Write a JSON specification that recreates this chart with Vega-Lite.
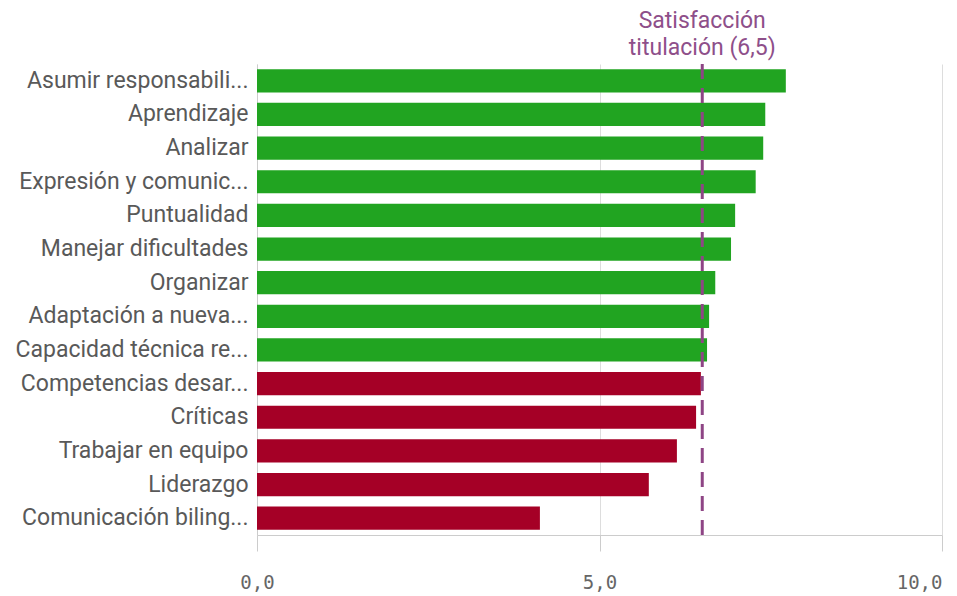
{
  "$schema": "https://vega.github.io/schema/vega-lite/v6.json",
  "autosize": {"type": "none"},
  "padding": {"left": 257, "top": 64, "right": 15, "bottom": 61},
  "width": 685,
  "height": 471,
  "background": "white",
  "config": {"view": {"stroke": null}},
  "datasets": {
    "bars": [
      {"competencia": "Asumir responsabili...", "valor": 7.72, "grupo": "sobre"},
      {"competencia": "Aprendizaje", "valor": 7.42, "grupo": "sobre"},
      {"competencia": "Analizar", "valor": 7.39, "grupo": "sobre"},
      {"competencia": "Expresión y comunic...", "valor": 7.28, "grupo": "sobre"},
      {"competencia": "Puntualidad", "valor": 6.98, "grupo": "sobre"},
      {"competencia": "Manejar dificultades", "valor": 6.92, "grupo": "sobre"},
      {"competencia": "Organizar", "valor": 6.69, "grupo": "sobre"},
      {"competencia": "Adaptación a nueva...", "valor": 6.60, "grupo": "sobre"},
      {"competencia": "Capacidad técnica re...", "valor": 6.57, "grupo": "sobre"},
      {"competencia": "Competencias desar...", "valor": 6.48, "grupo": "bajo"},
      {"competencia": "Críticas", "valor": 6.41, "grupo": "bajo"},
      {"competencia": "Trabajar en equipo", "valor": 6.13, "grupo": "bajo"},
      {"competencia": "Liderazgo", "valor": 5.72, "grupo": "bajo"},
      {"competencia": "Comunicación biling...", "valor": 4.13, "grupo": "bajo"}
    ],
    "ref": [
      {"valor": 6.5, "etiqueta": ["Satisfacción", "titulación (6,5)"]}
    ]
  },
  "layer": [
    {
      "data": {"name": "bars"},
      "mark": {"type": "bar"},
      "encoding": {
        "y": {
          "field": "competencia",
          "type": "nominal",
          "sort": null,
          "scale": {"paddingInner": 0.31, "paddingOuter": 0.155},
          "axis": {
            "title": null,
            "domain": true,
            "domainColor": "#cccccc",
            "ticks": false,
            "labelFont": "Roboto",
            "labelFontSize": 23,
            "labelColor": "#595959",
            "labelPadding": 9,
            "labelLimit": 300
          }
        },
        "x": {
          "field": "valor",
          "type": "quantitative",
          "scale": {"domain": [0, 10], "nice": false},
          "axis": {
            "title": null,
            "values": [0, 5, 10],
            "format": ".1f",
            "labelExpr": "replace(datum.label, '.', ',')",
            "labelAlign": {"condition": {"test": "datum.value == 10", "value": "right"}, "value": "center"},
            "grid": true,
            "gridColor": "#dddddd",
            "domain": true,
            "domainColor": "#cccccc",
            "tickColor": "#cccccc",
            "tickSize": 16,
            "labelFont": "DejaVu Sans Mono",
            "labelFontSize": 19,
            "labelColor": "#666666",
            "labelPadding": 22
          }
        },
        "color": {
          "field": "grupo",
          "type": "nominal",
          "scale": {"domain": ["sobre", "bajo"], "range": ["#21a421", "#a50026"]},
          "legend": null
        }
      }
    },
    {
      "data": {"name": "ref"},
      "mark": {"type": "rule", "color": "#8e4585", "strokeWidth": 3, "strokeDash": [15, 9]},
      "encoding": {
        "x": {"field": "valor", "type": "quantitative"}
      }
    },
    {
      "data": {"name": "ref"},
      "mark": {
        "type": "text",
        "color": "#8e4f8a",
        "font": "Roboto",
        "fontSize": 23,
        "align": "center",
        "baseline": "bottom",
        "lineHeight": 27,
        "dy": -31
      },
      "encoding": {
        "x": {"field": "valor", "type": "quantitative"},
        "y": {"value": 0},
        "text": {"field": "etiqueta"}
      }
    }
  ]
}
